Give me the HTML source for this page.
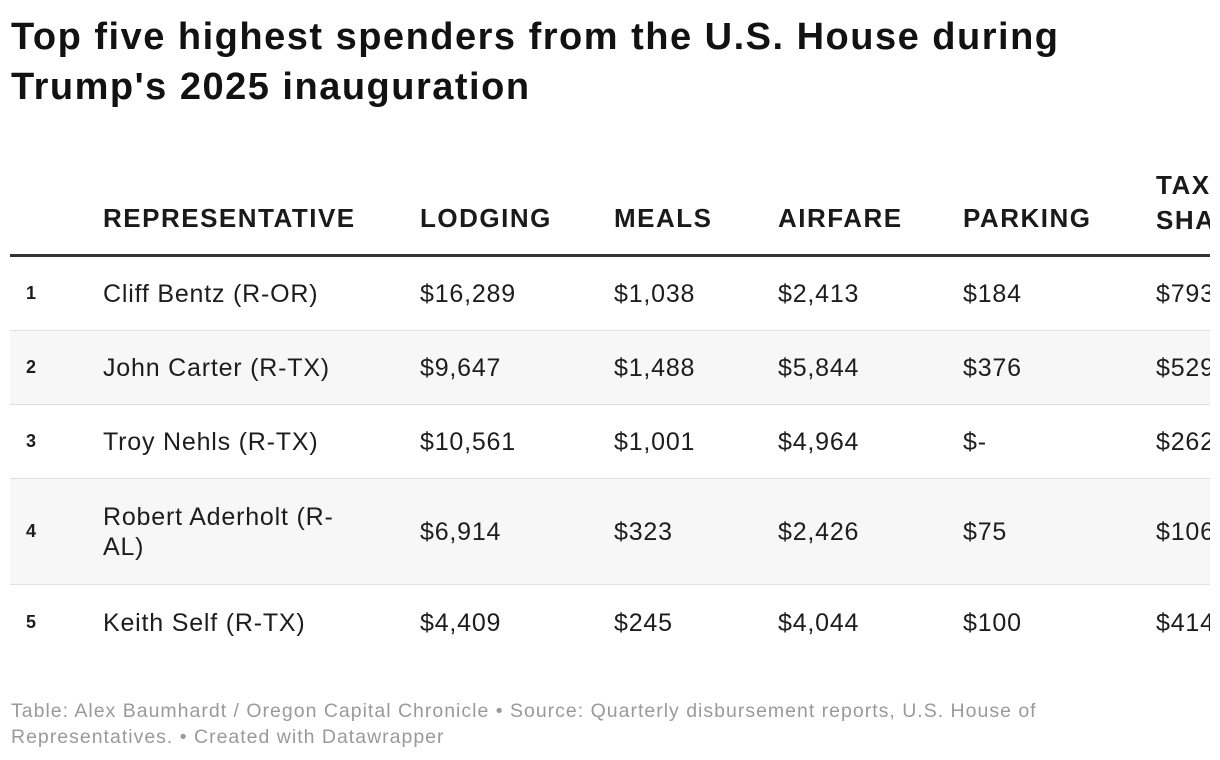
<!DOCTYPE html>
<html><head><meta charset="utf-8">
<style>
body{margin:0;width:1220px;height:760px;background:#fff;font-family:"Liberation Sans",sans-serif;color:#1d1d1d;overflow:hidden;position:relative}
h1{position:absolute;left:11px;top:12px;margin:0;font-size:38px;line-height:50px;font-weight:bold;color:#121212;letter-spacing:1.5px}
.wrap{position:absolute;left:10px;top:160px;width:1200px;height:500px;overflow:hidden}
.cell{position:absolute;white-space:nowrap}
.hd{font-weight:bold;font-size:26px;color:#1a1a1a;letter-spacing:1.5px}
.row{position:absolute;left:0;width:1400px;border-bottom:1px solid #e0e0e0}
.v{font-size:25px;letter-spacing:0.8px}
.rk{font-size:18px;font-weight:bold}
.foot{position:absolute;left:11px;top:698px;font-size:19.5px;line-height:26px;color:#9a9a9a;letter-spacing:1px}
</style></head><body>
<h1>Top five highest spenders from the U.S. House during<br>Trump's 2025 inauguration</h1>
<div class="wrap" id="tbl">
<div class="cell hd" style="left:93px;top:43px">REPRESENTATIVE</div>
<div class="cell hd" style="left:410px;top:43px">LODGING</div>
<div class="cell hd" style="left:604px;top:43px">MEALS</div>
<div class="cell hd" style="left:768px;top:43px">AIRFARE</div>
<div class="cell hd" style="left:953px;top:43px">PARKING</div>
<div class="cell hd" style="left:1146px;top:8px;line-height:35px">TAXI/<br>SHARED</div>
<div style="position:absolute;left:0;top:94px;width:1400px;height:3px;background:#333"></div>
</div>
<div class="foot">Table: Alex Baumhardt / Oregon Capital Chronicle • Source: Quarterly disbursement reports, U.S. House of<br>Representatives. • Created with Datawrapper</div>
<script>
const ranks=["1","2","3","4","5"];
const names=["Cliff Bentz (R-OR)","John Carter (R-TX)","Troy Nehls (R-TX)","Robert Aderholt (R-<br>AL)","Keith Self (R-TX)"];
const lodging=["$16,289","$9,647","$10,561","$6,914","$4,409"];
const meals=["$1,038","$1,488","$1,001","$323","$245"];
const airfare=["$2,413","$5,844","$4,964","$2,426","$4,044"];
const parking=["$184","$376","$-","$75","$100"];
const taxi=["$793","$529","$262","$106","$414"];
const tbl=document.getElementById('tbl');
const heights=[74,74,74,106,75];
const cols=[[lodging,410,'lodging'],[meals,604,'meals'],[airfare,768,'airfare'],[parking,953,'parking'],[taxi,1146,'taxi']];
let y=97;
names.forEach((n,i)=>{
  const h=heights[i];
  const r=document.createElement('div');
  r.className='row';
  r.style.top=y+'px';r.style.height=(h-1)+'px';
  r.style.background=i%2?'#f7f7f7':'#fff';
  if(i===names.length-1) r.style.borderBottom='none';
  
  
  tbl.appendChild(r);
  const mid=h/2;
  const rk=document.createElement('div');
  rk.className='cell rk';rk.textContent=ranks[i];
  rk.style.left='16px';rk.style.top=(y+mid-11)+'px';
  
  
  tbl.appendChild(rk);
  const nm=document.createElement('div');
  nm.className='cell v';nm.innerHTML=n;
  const lines=n.includes('<br>')?2:1;
  nm.style.left='93px';nm.style.lineHeight='30px';nm.style.top=(y+mid-15*lines)+'px';
  
  
  tbl.appendChild(nm);
  cols.forEach(c=>{
    const d=document.createElement('div');
    d.className='cell v';d.textContent=c[0][i];
    d.style.left=c[1]+'px';d.style.lineHeight='30px';d.style.top=(y+mid-15)+'px';
    
    
    tbl.appendChild(d);
  });
  y+=h;
});
</script>
</body></html>
